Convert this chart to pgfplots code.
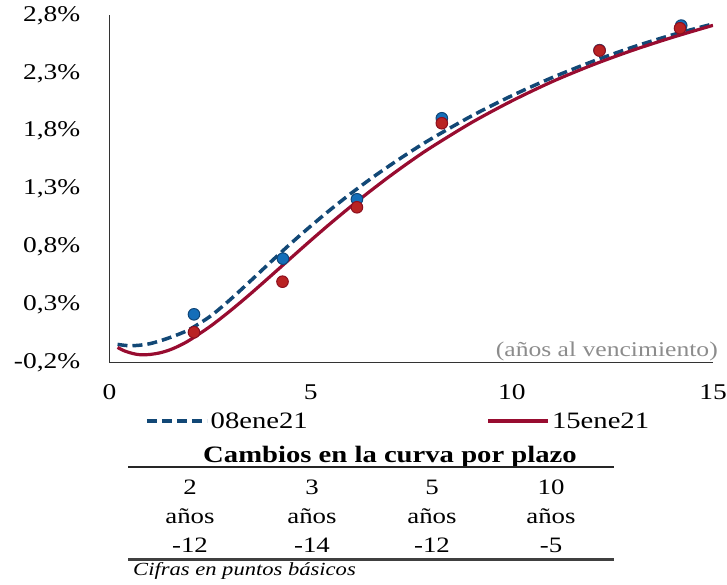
\documentclass[border=0pt]{standalone}
\usepackage{fontspec}
\setmainfont{Liberation Serif}[FakeStretch=1.22]
\usepackage{pgfplots}
\pgfplotsset{compat=1.18}
\definecolor{navyc}{RGB}{18,72,118}
\definecolor{crim}{RGB}{152,12,48}
\definecolor{bluept}{RGB}{20,110,185}
\definecolor{bluedk}{RGB}{15,70,120}
\definecolor{redpt}{RGB}{185,35,35}
\definecolor{reddk}{RGB}{140,15,30}
\begin{document}
\begin{tikzpicture}
\path[use as bounding box] (0,0) rectangle (727pt,584pt);
\begin{axis}[
  at={(109.5pt,221.3pt)}, anchor=south west,
  scale only axis, width=603.5pt, height=347.2pt,
  xmin=0, xmax=15, ymin=-0.2, ymax=2.8,
  axis x line*=bottom, axis y line*=left,
  axis line style={line width=1.5pt, color=black!80, -},
  xtick={0,5,10,15}, xticklabels={0,5,10,15},
  ytick={-0.2,0.3,0.8,1.3,1.8,2.3,2.8},
  yticklabels={{-0,2\%},{0,3\%},{0,8\%},{1,3\%},{1,8\%},{2,3\%},{2,8\%}},
  major tick length=0pt,
  tick label style={font=\fontsize{22.5}{26}\selectfont, inner sep=0pt},
  yticklabel style={xshift=-29pt},
  xticklabel style={yshift=-22pt},
  legend style={draw=none, fill=none, at={(0.0588,-0.168)}, anchor=west,
    font=\fontsize{23.5}{28}\selectfont, inner sep=0pt, column sep=2pt,
    nodes={inner sep=0pt},
    /tikz/every even column/.append style={column sep=179pt}},
  legend columns=2,
  legend image code/.code={\draw[#1] (0pt,0pt) -- (60pt,0pt);},
]
\addplot[smooth, color=navyc, line width=3.5pt, dash pattern=on 10pt off 5pt] coordinates {
(0.2,-0.042) (0.4,-0.051) (0.55,-0.053) (0.75,-0.049) (1.0,-0.036) (1.25,-0.012)
(1.5,0.017) (1.75,0.050) (2.0,0.090) (2.5,0.200) (3.0,0.345) (3.5,0.505)
(4.0,0.668) (4.5,0.828) (5.0,0.980) (5.5,1.125) (6.0,1.262) (6.5,1.391)
(7.0,1.512) (7.5,1.627) (8.0,1.735) (9.0,1.932) (10,2.107) (11,2.263)
(12,2.402) (13,2.526) (14,2.634) (15,2.727)};
\addlegendentry{08ene21}
\addplot[smooth, color=crim, line width=3.2pt] coordinates {
(0.2,-0.068) (0.35,-0.095) (0.5,-0.113) (0.65,-0.126) (0.8,-0.132) (1.0,-0.129)
(1.25,-0.115) (1.5,-0.089) (1.75,-0.051) (2.0,-0.003) (2.5,0.113) (3.0,0.248)
(3.5,0.394) (4.0,0.547) (4.5,0.702) (5.0,0.856) (5.5,1.006) (6.0,1.150)
(6.5,1.288) (7.0,1.420) (7.5,1.545) (8.0,1.662) (9.0,1.875) (10,2.062)
(11,2.228) (12,2.372) (13,2.499) (14,2.612) (15,2.715)};
\addlegendentry{15ene21}
\addplot[forget plot, only marks, mark=*, mark size=5.8pt,
  mark options={fill=bluept, draw=bluedk, line width=1pt}] coordinates {
(2.10,0.218) (4.31,0.699) (6.15,1.212) (8.26,1.912) (12.18,2.50) (14.21,2.713)};
\addplot[forget plot, only marks, mark=*, mark size=5.8pt,
  mark options={fill=redpt, draw=reddk, line width=1pt}] coordinates {
(2.10,0.063) (4.30,0.500) (6.15,1.143) (8.26,1.869) (12.18,2.497) (14.18,2.690)};
\end{axis}
\node[anchor=base east, text=black!45, font=\fontsize{21}{25}\selectfont, inner sep=0pt] at (718pt,228pt) {(años al vencimiento)};
\node[anchor=base, font=\fontsize{23.5}{27}\selectfont\bfseries, inner sep=0pt] at (390pt,122pt) {Cambios en la curva por plazo};
\draw[line width=1.5pt, black!85] (128pt,117pt) -- (614pt,117pt);
\foreach \x/\a/\c in {190/2/-12, 312/3/-14, 432/5/-12, 551/10/-5} {
  \node[anchor=base, font=\fontsize{22}{25}\selectfont, inner sep=0pt] at (\x pt,90pt) {\a};
  \node[anchor=base, font=\fontsize{22}{25}\selectfont, inner sep=0pt] at (\x pt,61pt) {años};
  \node[anchor=base, font=\fontsize{22}{25}\selectfont, inner sep=0pt] at (\x pt,32pt) {\c};
}
\draw[line width=3pt, black!75] (128pt,24.5pt) -- (614pt,24.5pt);
\node[anchor=base west, font=\fontsize{18.5}{22}\selectfont\itshape, inner sep=0pt] at (133pt,9pt) {Cifras en puntos básicos};
\end{tikzpicture}
\end{document}
